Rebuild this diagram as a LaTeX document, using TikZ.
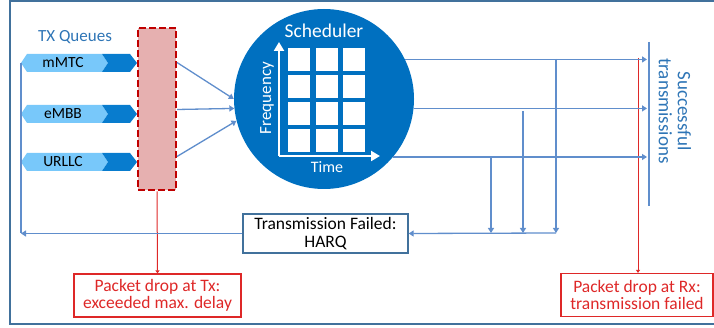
\documentclass[tikz,border=0pt]{standalone}
\usepackage{fontspec}
\setmainfont{Carlito}
\usetikzlibrary{arrows.meta,calc}
\definecolor{framec}{RGB}{65,113,156}
\definecolor{linec}{RGB}{96,142,204}
\definecolor{schedc}{RGB}{0,112,192}
\definecolor{qlight}{RGB}{120,200,250}
\definecolor{qdark}{RGB}{8,124,206}
\definecolor{bufc}{RGB}{192,0,0}
\definecolor{buffill}{RGB}{230,176,176}
\definecolor{redc}{RGB}{222,40,40}
\definecolor{titlec}{RGB}{46,117,182}
\newcommand{\fsz}[1]{\fontsize{#1}{#1}\selectfont}
\tikzset{
	flow/.style={draw=linec,line width=1.3pt,-{Triangle[width=6pt,length=5pt]}},
	plain/.style={draw=linec,line width=1.3pt},
	redflow/.style={draw=redc,line width=1pt,-{Triangle[width=4pt,length=3pt]}},
	dropbox/.style={draw=redc,line width=1.2pt,text=redc,align=center,minimum height=43pt,font=\fsz{17.5}},
}

\begin{document}
\begin{tikzpicture}[x=1pt,y=-1pt]
			\useasboundingbox(0,0)rectangle(714,328);
			\draw[framec,line width=2pt](10,1)rectangle(740,324);
			\node[text=titlec,font=\fsz{17}](txq)at(75,37){TX Queues};
			\foreach \y/\n/\t in {63/mmtc/mMTC,114/embb/eMBB,162/urllc/URLLC}{
				\fill[qlight](21,\y)--(27,\y-9)--(102,\y-9)--(108,\y)--(102,\y+9)--(27,\y+9)--cycle;
				\fill[qdark](102,\y-9)--(130,\y-9)--(137,\y)--(130,\y+9)--(102,\y+9)--(108,\y)--cycle;
				\node[font=\fsz{15.5}](\n)at(63,\y){\t};
				\coordinate(\n w)at(21,\y);
			}
			\node[draw=bufc,fill=buffill,line width=2pt,dash pattern=on 7pt off 3pt,minimum width=38pt,minimum height=162pt,inner sep=0pt](txbuf)at(157,109.5){};
			\node[circle,fill=schedc,minimum size=180pt,inner sep=0pt](sched)at(324,99){};
			\node[text=white,font=\fsz{19.5}](schedt)at(324,31){Scheduler};
			\foreach \i in {0,1,2}
				\foreach \j in {0,1,2,3}
					\fill[white](288+27.5*\i,48+27*\j)rectangle++(22,23);
			\coordinate(org)at(279,156);
			\draw[white,line width=2pt,-{Triangle[width=10pt,length=9pt]}](org)--(279,42);
			\draw[white,line width=2pt,-{Triangle[width=10pt,length=9pt]}](org)--(380,156);
			\node[rotate=90,text=white,font=\fsz{17}](freq)at(267,98){Frequency};
			\node[text=white,font=\fsz{16}](time)at(327,167){Time};
			\draw[flow]($(txbuf.east)+(0,-47)$)--(sched.180);
			\draw[flow](txbuf.east)--(sched.186);
			\draw[flow]($(txbuf.east)+(0,47)$)--(sched.194);
			\draw[linec,line width=2.5pt](649,42)--(649,206);
			\coordinate(okbar)at(647,42);
			\node[rotate=-90,text=titlec,align=center,font=\fsz{19}](succ)at(675,111){Successful\\transmissions};
			\node[dropbox,minimum width=167pt](txdrop)at(157.5,295.5){Packet drop at Tx:\\exceeded max. delay};
			\node[dropbox,minimum width=152pt](rxdrop)at(637,295){Packet drop at Rx:\\transmission failed};
			\coordinate(rxtop)at(638,58);
			\draw[redflow](rxtop)--(rxdrop.north-|rxtop);
			\draw[redflow](txbuf.south)--(txdrop.north);
			\draw[flow](sched.26)--(sched.26-|okbar);
			\draw[flow](sched.-6)--(sched.-6-|okbar);
			\draw[flow](sched.-40)--(sched.-40-|okbar);
			\node[draw=framec,line width=1.3pt,align=center,minimum width=165pt,minimum height=39pt,font=\fsz{17.5}](harq)at(325.5,233.5){Transmission Failed:\\HARQ};
			\coordinate(fb1)at(556,59);
			\coordinate(fb2)at(523,111);
			\coordinate(fb3)at(491,157);
			\coordinate(fbend)at(556,233);
			\foreach \f in {fb1,fb2,fb3}
				\draw[flow](\f)--(\f|-fbend);
			\draw[flow](fbend)--(harq.east);
			\draw[flow](harq.west)--(harq.west-|mmtcw);
			\draw[plain](mmtcw)--(harq.west-|mmtcw);
		\end{tikzpicture}
\end{document}
